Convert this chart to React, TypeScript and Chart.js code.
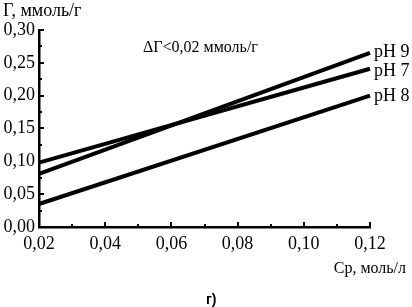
import React, { useEffect, useRef } from "react";
import { Chart, registerables } from "chart.js";

Chart.register(...registerables);

const cpValues = [0.02, 0.12];
const ph9Values = [0.081, 0.265];
const ph7Values = [0.098, 0.241];
const ph8Values = [0.035, 0.2];
const seriesLabels = ["pH 9", "pH 7", "pH 8"];
const yTitle = "Г, ммоль/г";
const xTitle = "Ср, моль/л";
const noteText = "ΔГ<0,02 ммоль/г";
const panelLabel = "г)";

const SERIF = "'Liberation Serif', 'Times New Roman', serif";

const fmt = (v: number) => v.toFixed(2).replace(".", ",");

const decorPlugin = {
  id: "decor",
  afterDraw(chart: any) {
    const ctx = chart.ctx as CanvasRenderingContext2D;
    const xs = chart.scales.x;
    const ys = chart.scales.y;
    const area = chart.chartArea;
    ctx.save();
    ctx.strokeStyle = "#000";
    ctx.lineWidth = 2;
    for (let i = 0; i <= 12; i++) {
      const v = i * 0.025;
      const py = Math.round(ys.getPixelForValue(v));
      const len = i % 2 === 0 ? 5 : 3;
      ctx.beginPath();
      ctx.moveTo(area.left, py);
      ctx.lineTo(area.left + len, py);
      ctx.stroke();
    }
    for (let i = 0; i <= 10; i++) {
      const v = 0.02 + i * 0.01;
      const px = Math.round(xs.getPixelForValue(v));
      const len = i % 2 === 0 ? 5 : 3;
      ctx.beginPath();
      ctx.moveTo(px, area.bottom);
      ctx.lineTo(px, area.bottom - len);
      ctx.stroke();
    }
    ctx.fillStyle = "#000";
    ctx.textBaseline = "alphabetic";
    ctx.textAlign = "left";
    ctx.font = `18px ${SERIF}`;
    ctx.fillText(yTitle, 3, 16);
    ctx.font = `16px ${SERIF}`;
    ctx.fillText(noteText, 143, 52);
    const baselines = [57, 76, 101];
    ctx.font = `18px ${SERIF}`;
    seriesLabels.forEach((lab, i) => {
      ctx.fillText(lab, area.right + 4, baselines[i]);
    });
    ctx.font = `16px ${SERIF}`;
    ctx.textAlign = "right";
    ctx.fillText(xTitle, 406, 273);
    ctx.textAlign = "left";
    ctx.font = `bold 14px 'Liberation Sans', Arial, sans-serif`;
    ctx.fillText(panelLabel, 206, 304);
    ctx.restore();
  },
};

export default function App() {
  const ref = useRef<HTMLCanvasElement | null>(null);
  useEffect(() => {
    document.body.style.margin = "0";
    const canvas = ref.current;
    if (!canvas) return;
    const mk = (vals: number[]) => cpValues.map((x, i) => ({ x, y: vals[i] }));
    const ds = (label: string, vals: number[]) => ({
      label,
      data: mk(vals),
      borderColor: "#000",
      backgroundColor: "#000",
      borderWidth: 4,
      pointRadius: 0,
      fill: false,
      tension: 0,
      clip: false as any,
    });
    const chart = new Chart(canvas, {
      type: "line",
      data: {
        datasets: [
          ds(seriesLabels[0], ph9Values),
          ds(seriesLabels[1], ph7Values),
          ds(seriesLabels[2], ph8Values),
        ],
      },
      options: {
        animation: false,
        responsive: false,
        devicePixelRatio: 1,
        layout: { padding: { top: 30, right: 42, left: 0, bottom: 0 } },
        plugins: { legend: { display: false }, tooltip: { enabled: false } },
        scales: {
          x: {
            type: "linear",
            min: 0.02,
            max: 0.12,
            grid: { display: false, drawTicks: false },
            border: { display: true, color: "#000", width: 2.5 },
            ticks: {
              stepSize: 0.02,
              padding: 6,
              color: "#000",
              font: { family: SERIF, size: 18 },
              maxRotation: 0,
              callback: (v: any) => fmt(Number(v)),
            },
            afterFit: (s: any) => {
              s.height = 80;
            },
          },
          y: {
            type: "linear",
            min: 0,
            max: 0.3,
            grid: { display: false, drawTicks: false },
            border: { display: true, color: "#000", width: 2.5 },
            ticks: {
              stepSize: 0.05,
              padding: 4,
              color: "#000",
              font: { family: SERIF, size: 18 },
              callback: (v: any) => fmt(Number(v)),
            },
            afterFit: (s: any) => {
              s.width = 39;
            },
          },
        },
      },
      plugins: [decorPlugin],
    });
    return () => chart.destroy();
  }, []);
  return (
    <div style={{ width: 412, height: 307, background: "#fff" }}>
      <canvas ref={ref} width={412} height={307} style={{ width: 412, height: 307, display: "block" }} />
    </div>
  );
}
